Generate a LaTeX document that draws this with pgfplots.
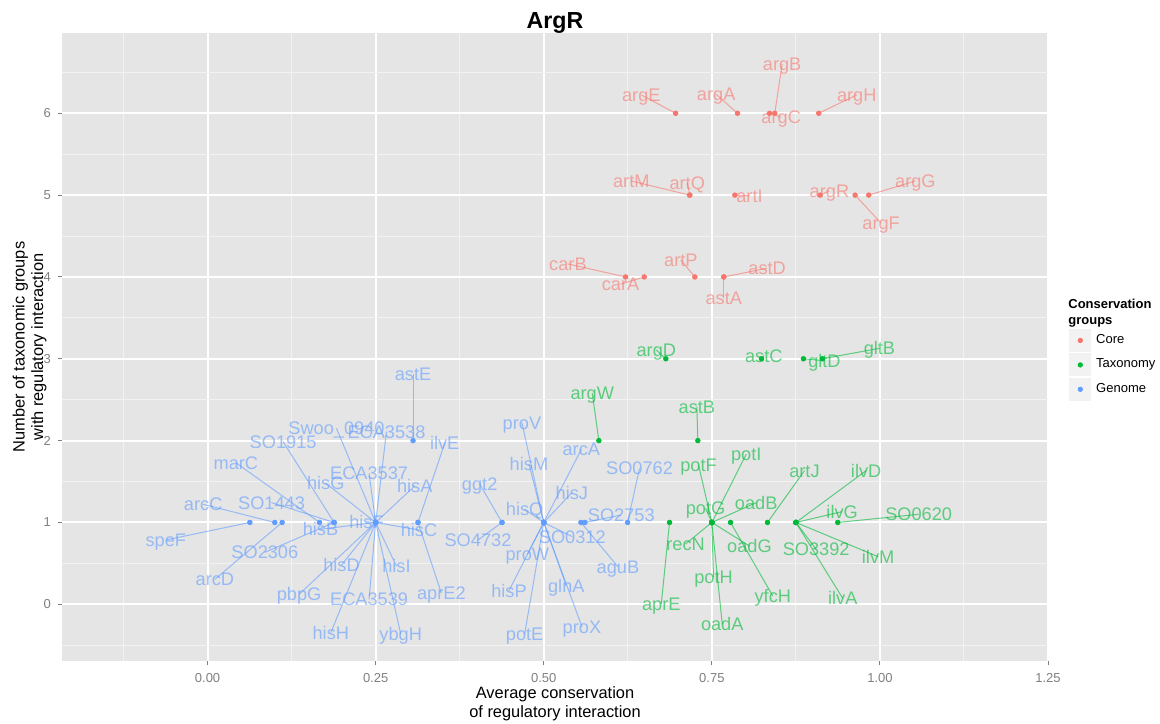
\documentclass[border=0pt]{standalone}
\usepackage{pgfplots}
\pgfplotsset{compat=1.18}
\usepackage{pgfplotstable}
\usepackage{fontspec}
\setmainfont{Liberation Sans}

\definecolor{coreC}{HTML}{F8766D}
\definecolor{taxC}{HTML}{00BA38}
\definecolor{genC}{HTML}{619CFF}
\definecolor{panel}{HTML}{E5E5E5}
\definecolor{gridmin}{HTML}{F2F2F2}
\definecolor{ticktxt}{HTML}{7F7F7F}

% x, y: gene position; lx, ly: where its label sits
\pgfplotstableread{
x y lx ly label
0.6962 6 0.6451 6.224 argE
0.7882 6 0.7565 6.232 argA
0.8358 6 0.8532 5.951 argC
0.8436 6 0.8546 6.603 argB
0.9090 6 0.9655 6.224 argH
0.7170 5 0.6302 5.173 artM
0.7173 5 0.7134 5.152 artQ
0.7842 5 0.8060 4.993 artI
0.9111 5 0.9249 5.054 argR
0.9631 5 1.0018 4.656 argF
0.9834 5 1.0528 5.173 argG
0.6217 4 0.5360 4.159 carB
0.6495 4 0.6143 3.911 carA
0.7247 4 0.7039 4.208 artP
0.7678 4 0.8323 4.106 astD
0.7678 4 0.7678 3.743 astA
}\coretab

\pgfplotstableread{
x y lx ly label
0.6816 3 0.6674 3.108 argD
0.8239 3 0.8273 3.038 astC
0.8863 3 0.9175 2.977 gltD
0.9145 3 0.9993 3.128 gltB
0.7292 2 0.7277 2.415 astB
0.5820 2 0.5722 2.578 argW
0.6871 1 0.6748 0.004 aprE
0.7500 1 0.7302 1.702 potF
0.7500 1 0.8011 1.833 potI
0.7500 1 0.7406 1.173 potG
0.7500 1 0.8160 1.242 oadB
0.7500 1 0.7109 0.737 recN
0.7500 1 0.7525 0.330 potH
0.7500 1 0.7655 -0.241 oadA
0.7500 1 0.8060 0.712 oadG
0.7778 1 0.8407 0.101 yfcH
0.8328 1 0.8878 1.633 artJ
0.8750 1 0.9795 1.633 ilvD
0.8750 1 0.9438 1.132 ilvG
0.8750 1 0.9052 0.672 SO3392
0.8750 1 0.9973 0.582 ilvM
0.8750 1 0.9447 0.073 ilvA
0.9373 1 1.0577 1.100 SO0620
}\taxtab

\pgfplotstableread{
x y lx ly label
0.3056 2 0.3056 2.814 astE
0.0629 1 -0.0620 0.786 speF
0.1000 1 -0.0065 1.222 arcC
0.1109 1 0.0109 0.306 arcD
0.1665 1 0.0421 1.730 marC
0.1882 1 0.1124 1.987 SO1915
0.1882 1 0.0951 1.242 SO1443
0.1882 1 0.0852 0.635 SO2306
0.2500 1 0.1680 0.917 hisB
0.2500 1 0.3145 0.908 hisC
0.2500 1 0.2363 1.009 hisF
0.2500 1 0.1758 1.479 hisG
0.2500 1 0.2402 1.601 ECA3537
0.2500 1 0.3081 1.446 hisA
0.2500 1 0.1917 2.151 Swoo\_0940
0.2500 1 0.2661 2.109 ECA3538
0.2500 1 0.1992 0.480 hisD
0.2500 1 0.2809 0.468 hisI
0.2500 1 0.1362 0.122 pbpG
0.2500 1 0.2402 0.061 ECA3539
0.2500 1 0.1833 -0.347 hisH
0.2500 1 0.2873 -0.363 ybgH
0.3130 1 0.3527 1.967 ilvE
0.3130 1 0.3478 0.134 aprE2
0.4379 1 0.4047 1.470 ggt2
0.4379 1 0.4022 0.786 SO4732
0.5000 1 0.4676 2.219 proV
0.5000 1 0.4780 1.715 hisM
0.5000 1 0.4716 1.161 hisQ
0.5000 1 0.5559 1.894 arcA
0.5000 1 0.5419 1.364 hisJ
0.5000 1 0.5425 0.826 SO0312
0.5000 1 0.4756 0.611 proW
0.5000 1 0.4483 0.166 hisP
0.5000 1 0.5336 0.224 glnA
0.5000 1 0.4716 -0.363 potE
0.5000 1 0.5568 -0.274 proX
0.5553 1 0.6103 0.459 aguB
0.5612 1 0.6153 1.091 SO2753
0.6247 1 0.6425 1.662 SO0762
}\gentab

\pgfplotsset{
  seg/.style={quiver={u=\thisrow{lx}-\thisrow{x}, v=\thisrow{ly}-\thisrow{y}},
    line width=0.5pt, draw opacity=0.6, forget plot},
  lab/.style={only marks, mark=none, nodes near coords, point meta=explicit symbolic,
    nodes near coords style={anchor=center, font=\fontsize{9.1}{9.1}\selectfont,
      text height=6.5pt, text depth=0pt, inner sep=0pt, text opacity=0.6},
    forget plot},
  pts/.style={only marks, mark=*, mark size=1.15pt, mark options={draw=none},
    legend image code/.code={
      \fill[gridmin] (0pt,-5.5pt) rectangle (10.5pt,5.5pt);
      \fill (5.25pt,0pt) circle (1.1pt);}},
}

\begin{document}
\begin{tikzpicture}
\begin{axis}[
  scale only axis, width=493pt, height=314pt,
  xmin=-0.2165, xmax=1.25, ymin=-0.693, ymax=6.981,
  axis background/.style={fill=panel},
  axis line style={draw=none},
  xtick={0,0.25,0.5,0.75,1,1.25},
  xticklabels={0.00,0.25,0.50,0.75,1.00,1.25},
  ytick={0,1,2,3,4,5,6},
  yticklabels={0,1,2,3,4,5,6},
  minor xtick={-0.125,0.125,0.375,0.625,0.875,1.125},
  minor ytick={-0.5,0.5,1.5,2.5,3.5,4.5,5.5,6.5},
  grid=both,
  major grid style={white, line width=1pt},
  minor grid style={gridmin, line width=0.5pt},
  tick align=outside, major tick length=2pt, minor tick length=0pt,
  tick style={ticktxt, line width=0.5pt},
  xtick pos=bottom, ytick pos=left,
  ticklabel style={font=\fontsize{6.5}{7}\selectfont, text=ticktxt},
  xticklabel style={yshift=-0.6pt},
  xlabel={Average conservation\\of regulatory interaction},
  ylabel={Number of taxonomic groups\\with regulatory interaction},
  label style={font=\fontsize{8.2}{9.2}\selectfont, align=center, inner sep=0pt},
  xlabel style={at={(axis description cs:0.5,-0.0405)}, anchor=north},
  ylabel style={at={(axis description cs:-0.0153,0.5)}, anchor=south},
  title={\textbf{ArgR}},
  title style={font=\fontsize{11.6}{12}\selectfont, at={(axis description cs:0.5,1)},
    anchor=base, yshift=-3.65pt, inner sep=0pt},
  legend style={draw=none, fill=none, at={(axis description cs:1.0213,0.4715)},
    anchor=west, inner sep=0pt, row sep=0.8pt, font=\fontsize{6.5}{7}\selectfont,
    nodes={inner sep=0pt},
    /tikz/every odd column/.append style={column sep=2.5pt}},
  legend cell align=left,
]
% connector segments
\addplot[seg, coreC] table[x=x, y=y] {\coretab};
\addplot[seg, taxC] table[x=x, y=y] {\taxtab};
\addplot[seg, genC] table[x=x, y=y] {\gentab};
% gene names
\addplot[lab, nodes near coords style={text=coreC}] table[x=lx, y=ly, meta=label] {\coretab};
\addplot[lab, nodes near coords style={text=taxC}] table[x=lx, y=ly, meta=label] {\taxtab};
\addplot[lab, nodes near coords style={text=genC}] table[x=lx, y=ly, meta=label] {\gentab};
% genes
\addplot[pts, color=coreC] table[x=x, y=y] {\coretab};
\addlegendentry{Core}
\addplot[pts, color=taxC] table[x=x, y=y] {\taxtab};
\addlegendentry{Taxonomy}
\addplot[pts, color=genC] table[x=x, y=y] {\gentab};
\addlegendentry{Genome}
\end{axis}
\node[anchor=north west, align=left, inner sep=0pt,
  font=\fontsize{6.5}{7.6}\selectfont\bfseries] at (503pt,181pt) {Conservation\\groups};
\pgfresetboundingbox
\useasboundingbox (-31pt,-31pt) rectangle (549pt,330.5pt);
\end{tikzpicture}
\end{document}
